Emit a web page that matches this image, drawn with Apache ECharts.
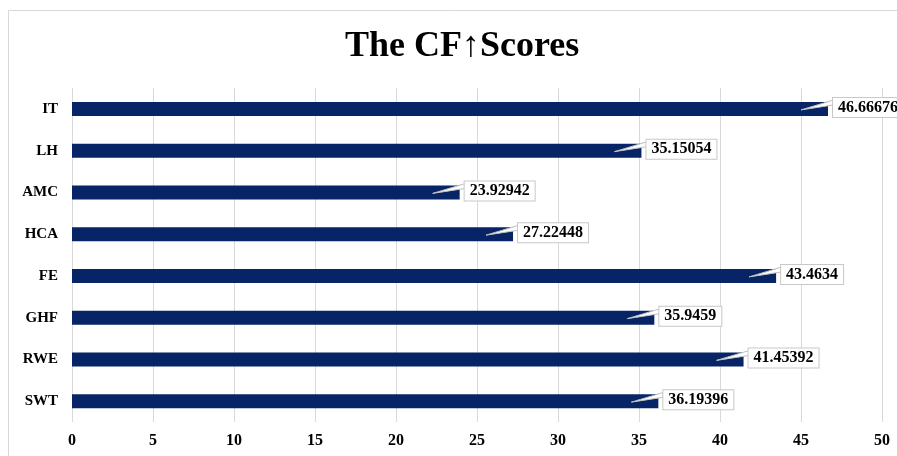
<!DOCTYPE html>
<html>
<head>
<meta charset="utf-8">
<script src="https://cdn.jsdelivr.net/npm/echarts@6/dist/echarts.min.js"></script>
<style>
  html, body { margin: 0; padding: 0; background: #fff; }
  #main { width: 897px; height: 456px; }
</style>
</head>
<body>
<div id="main"></div>
<script>
  var categories = ['IT', 'LH', 'AMC', 'HCA', 'FE', 'GHF', 'RWE', 'SWT'];
  var scores = [46.66676, 35.15054, 23.92942, 27.22448, 43.4634, 35.9459, 41.45392, 36.19396];
  var labels = ['46.66676', '35.15054', '23.92942', '27.22448', '43.4634', '35.9459', '41.45392', '36.19396'];

  var serif = '"Liberation Serif", "Times New Roman", serif';
  var chart = echarts.init(document.getElementById('main'));

  // callout wedge + value box, drawn at the end of each bar
  function renderCallout(params, api) {
    var idx = api.value(1);
    var p = api.coord([api.value(0), idx]);
    var x = p[0], cy = p[1];
    var boxLeft = x + 5;
    return {
      type: 'group',
      children: [
        {
          type: 'polygon',
          shape: { points: [[x - 27, cy + 1], [boxLeft + 1, cy - 9], [boxLeft + 1, cy - 4]] },
          style: { fill: '#fff', stroke: '#bfbfbf', lineWidth: 1 }
        },
        {
          type: 'text',
          x: boxLeft,
          y: cy - 1.5,
          style: {
            text: labels[idx],
            font: 'bold 16px ' + serif,
            fill: '#000',
            align: 'left',
            verticalAlign: 'middle',
            backgroundColor: '#fff',
            borderColor: '#c8c8c8',
            borderWidth: 1,
            padding: [2, 5, 1, 5]
          }
        }
      ]
    };
  }

  chart.setOption({
    animation: false,
    title: {
      text: 'The CF\u2191Scores',
      left: 340,
      top: 24,
      textStyle: { fontFamily: serif, fontSize: 36, fontWeight: 'bold', color: '#000' }
    },
    graphic: [{
      type: 'rect',
      shape: { x: 8.5, y: 10.5, width: 900, height: 460 },
      style: { fill: 'none', stroke: '#d9d9d9', lineWidth: 1 },
      silent: true
    }],
    grid: { left: 72, right: 15, top: 88, bottom: 34 },
    xAxis: {
      type: 'value',
      min: 0,
      max: 50,
      interval: 5,
      axisLine: { show: false },
      axisTick: { show: false },
      splitLine: { lineStyle: { color: '#d9d9d9', width: 1 } },
      axisLabel: { fontFamily: serif, fontSize: 16, fontWeight: 'bold', color: '#000', margin: 11 }
    },
    yAxis: {
      type: 'category',
      data: categories,
      inverse: true,
      axisLine: { show: false },
      axisTick: { show: false },
      axisLabel: { fontFamily: serif, fontSize: 15, fontWeight: 'bold', color: '#000', margin: 14 }
    },
    series: [
      {
        type: 'bar',
        data: scores,
        barWidth: 14,
        itemStyle: { color: '#062466' }
      },
      {
        type: 'custom',
        renderItem: renderCallout,
        data: scores.map(function (v, i) { return [v, i]; }),
        encode: { x: 0, y: 1 },
        z: 5,
        silent: true
      }
    ]
  });
</script>
</body>
</html>
